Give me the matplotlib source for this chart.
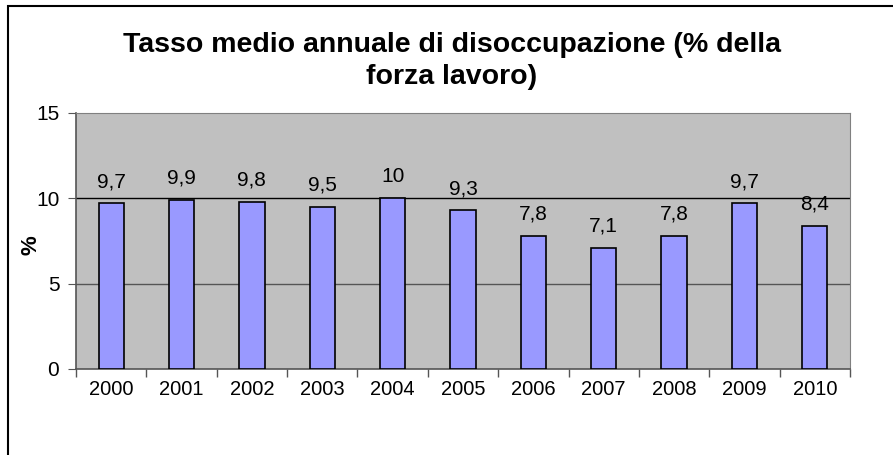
import numpy as np
import matplotlib.pyplot as plt
from matplotlib.patches import Rectangle

anni = ['2000', '2001', '2002', '2003', '2004', '2005', '2006', '2007', '2008', '2009', '2010']
tasso = [9.7, 9.9, 9.8, 9.5, 10, 9.3, 7.8, 7.1, 7.8, 9.7, 8.4]
etichette = ['9,7', '9,9', '9,8', '9,5', '10', '9,3', '7,8', '7,1', '7,8', '9,7', '8,4']
titolo = ['Tasso medio annuale di disoccupazione (% della', 'forza lavoro)']

plt.rcParams['font.family'] = ['Liberation Sans', 'DejaVu Sans']
fig = plt.figure(figsize=(8.93, 4.55), dpi=100)
# cornice esterna del grafico
fig.patches.append(Rectangle((8/893, -0.1), 1.2, (455-6)/455+0.1, transform=fig.transFigure,
                             fill=False, edgecolor='black', linewidth=1.5))
ax = fig.add_axes([76/893, 1-369/455, (850-76)/893, (369-113)/455])
ax.set_facecolor('#c0c0c0')

x = np.arange(len(anni))
ax.bar(x, tasso, width=0.36, color='#9999ff', edgecolor='black', linewidth=1.2, zorder=3)
for xi, v, s in zip(x, tasso, etichette):
    ax.text(xi, v + 0.95, s, ha='center', va='baseline', fontsize=15)

ax.set_xlim(-0.5, len(anni) - 0.5)
ax.set_ylim(0, 15)
ax.set_yticks([0, 5, 10, 15])
ax.axhline(10, color='black', linewidth=1, zorder=2)
ax.axhline(5, color='#555555', linewidth=1, zorder=2)
ax.set_xticks(x)
ax.set_xticklabels(anni, fontsize=14.5)
ax.set_xticks(np.arange(-0.5, len(anni)), minor=True)
ax.tick_params(axis='x', which='major', length=0, pad=8)
ax.tick_params(axis='x', which='minor', length=6, color='#555555', width=1)
ax.tick_params(axis='y', length=6, color='#555555', labelsize=15, pad=6)
for s in ['left', 'bottom']:
    ax.spines[s].set_color('#555555')
    ax.spines[s].set_linewidth(1.2)
for s in ['top', 'right']:
    ax.spines[s].set_color('#808080')
ax.set_ylabel('%', fontsize=16, fontweight='bold')
ax.yaxis.set_label_coords(-0.045, 0.484)

fig.text(452/893, 1-45/455, titolo[0], ha='center', va='center', fontsize=20.5, fontweight='bold')
fig.text(452/893, 1-77/455, titolo[1], ha='center', va='center', fontsize=20.5, fontweight='bold')

fig.savefig('out.png', dpi=100)
